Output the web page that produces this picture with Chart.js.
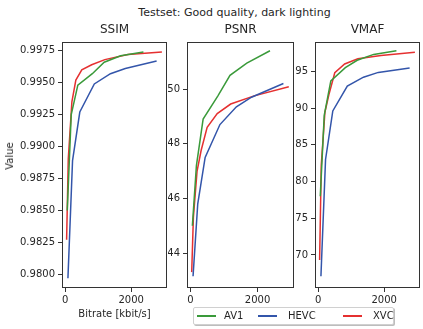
<!DOCTYPE html>
<html>
<head>
<meta charset="utf-8">
<script src="https://cdn.jsdelivr.net/npm/chart.js@4.4.1/dist/chart.umd.min.js"></script>
<style>
  html, body { margin: 0; padding: 0; background: #ffffff; }
  #wrap { position: relative; width: 423px; height: 329px; overflow: hidden; font-family: "DejaVu Sans", sans-serif; color: #262626; }
  canvas { position: absolute; top: 0; }
  #mainTitle { position: absolute; top: 5px; left: 234.5px; transform: translateX(-50%); font-size: 11px; white-space: nowrap; line-height: 16px; }
  #yLabel { position: absolute; left: 10px; top: 155.5px; transform: translate(-50%, -50%) rotate(-90deg); font-size: 10px; white-space: nowrap; line-height: 12px; }
  #legend { position: absolute; left: 193px; top: 307px; width: 199px; height: 16px; border: 1px solid #d0d0d0; border-radius: 2px; background: #fff; box-shadow: 1px 1px 0 #bdbdbd; font-size: 10px; }
  .lg-line { position: absolute; top: 7px; height: 1.5px; width: 19px; }
  .lg-text { position: absolute; top: 0; line-height: 16px; }
</style>
</head>
<body>
<div id="wrap">
  <div id="mainTitle">Testset: Good quality, dark lighting</div>
  <canvas id="cSSIM" width="168" height="329" style="left:0px;width:168px;height:329px"></canvas>
  <canvas id="cPSNR" width="130" height="329" style="left:168px;width:130px;height:329px"></canvas>
  <canvas id="cVMAF" width="131" height="329" style="left:292px;width:131px;height:329px"></canvas>
  <div id="yLabel">Value</div>
  <div id="legend"></div>
</div>
<script>
// ---- data ----
const codecs = ["AV1", "HEVC", "XVC"];
const codecColors = ["#3a9a3a", "#3355aa", "#e53030"];

const bitrateAV1  = [60, 180, 380, 820, 1180, 1680, 2370];
const bitrateHEVC = [80, 220, 440, 880, 1370, 1820, 2770];
const bitrateXVC  = [40, 90, 200, 320, 500, 800, 1200, 1900, 2930];

const ssimAV1  = [0.9850, 0.9925, 0.9948, 0.9957, 0.9966, 0.9971, 0.9974];
const ssimHEVC = [0.9797, 0.9889, 0.9927, 0.9949, 0.9957, 0.9961, 0.9967];
const ssimXVC  = [0.9827, 0.9890, 0.9935, 0.9952, 0.9960, 0.9964, 0.9968, 0.9972, 0.9974];

const psnrAV1  = [45.0, 47.2, 48.9, 49.75, 50.5, 50.95, 51.4];
const psnrHEVC = [43.15, 45.8, 47.5, 48.7, 49.35, 49.7, 50.2];
const psnrXVC  = [43.3, 45.3, 47.0, 47.75, 48.6, 49.1, 49.45, 49.75, 50.08];

const vmafAV1  = [78.0, 89.0, 93.7, 95.5, 96.5, 97.3, 97.8];
const vmafHEVC = [67.1, 83.0, 89.6, 93.0, 94.2, 94.85, 95.45];
const vmafXVC  = [69.3, 82.2, 89.4, 91.8, 94.8, 96.0, 96.7, 97.15, 97.6];

const xTicks    = [0, 2000];
const ssimTicks = [0.9800, 0.9825, 0.9850, 0.9875, 0.9900, 0.9925, 0.9950, 0.9975];
const psnrTicks = [44, 46, 48, 50];
const vmafTicks = [70, 75, 80, 85, 90, 95];

// ---- helpers ----
const bitrates = [bitrateAV1, bitrateHEVC, bitrateXVC];
function pts(xs, ys) { return xs.map((x, i) => ({ x: x, y: ys[i] })); }
function makeDatasets(series) {
  return series.map((ys, i) => ({
    label: codecs[i],
    data: pts(bitrates[i], ys),
    borderColor: codecColors[i],
    backgroundColor: codecColors[i],
    borderWidth: 1.5,
    pointRadius: 0,
    tension: 0,
    fill: false
  }));
}

const frameBox = {
  id: 'frameBox',
  afterDraw(chart) {
    const a = chart.chartArea, ctx = chart.ctx;
    ctx.save();
    ctx.strokeStyle = '#333333';
    ctx.lineWidth = 1;
    ctx.strokeRect(Math.round(a.left) + 0.5, Math.round(a.top) + 0.5,
                   Math.round(a.right - a.left) - 1, Math.round(a.bottom - a.top) - 1);
    ctx.restore();
  }
};

const tickFont = { family: "DejaVu Sans", size: 10 };

function makePanel(id, title, series, yMin, yMax, yTicks, decimals, yWidth, padRight, xTitle) {
  new Chart(document.getElementById(id), {
    type: 'line',
    data: { datasets: makeDatasets(series) },
    plugins: [frameBox],
    options: {
      responsive: false,
      animation: false,
      devicePixelRatio: 1,
      layout: { padding: { left: 0, right: padRight, top: 0, bottom: 0 } },
      plugins: {
        legend: { display: false },
        tooltip: { enabled: false },
        title: {
          display: true, text: title, color: '#262626', fullSize: false,
          font: { family: "DejaVu Sans", size: 12, weight: 'normal' },
          padding: { top: 22.8, bottom: 4.8 }
        }
      },
      scales: {
        x: {
          type: 'linear', min: -100, max: 3085,
          afterBuildTicks: s => { s.ticks = xTicks.map(v => ({ value: v })); },
          afterFit: s => { s.height = 41; },
          ticks: { color: '#262626', font: tickFont, padding: 2, maxRotation: 0,
                   callback: v => String(v) },
          grid: { display: true, drawOnChartArea: false, drawTicks: true, tickLength: 4, color: '#333333' },
          border: { display: false },
          title: { display: !!xTitle, text: xTitle || '', color: '#262626',
                   font: { family: "DejaVu Sans", size: 10 }, padding: { top: 0, bottom: 9 } }
        },
        y: {
          type: 'linear', min: yMin, max: yMax,
          afterBuildTicks: s => { s.ticks = yTicks.map(v => ({ value: v })); },
          afterFit: s => { s.width = yWidth; },
          ticks: { color: '#262626', font: tickFont, padding: 3,
                   callback: v => Number(v).toFixed(decimals) },
          grid: { display: true, drawOnChartArea: false, drawTicks: true, tickLength: 4, color: '#333333' },
          border: { display: false }
        }
      }
    }
  });
}

makePanel('cSSIM', 'SSIM', [ssimAV1, ssimHEVC, ssimXVC], 0.97893, 0.99818, ssimTicks, 4, 62, 1, 'Bitrate [kbit/s]');
makePanel('cPSNR', 'PSNR', [psnrAV1, psnrHEVC, psnrXVC], 42.72, 51.72, psnrTicks, 0, 19, 4, null);
makePanel('cVMAF', 'VMAF', [vmafAV1, vmafHEVC, vmafXVC], 65.5, 98.99, vmafTicks, 0, 23, 3, null);

// ---- legend ----
const lg = document.getElementById('legend');
const lineX = [3, 64, 149];
const textX = [30, 94, 179];
codecs.forEach((name, i) => {
  const l = document.createElement('div');
  l.className = 'lg-line';
  l.style.left = lineX[i] + 'px';
  l.style.background = codecColors[i];
  lg.appendChild(l);
  const t = document.createElement('div');
  t.className = 'lg-text';
  t.style.left = textX[i] + 'px';
  t.textContent = name;
  lg.appendChild(t);
});
</script>
</body>
</html>
